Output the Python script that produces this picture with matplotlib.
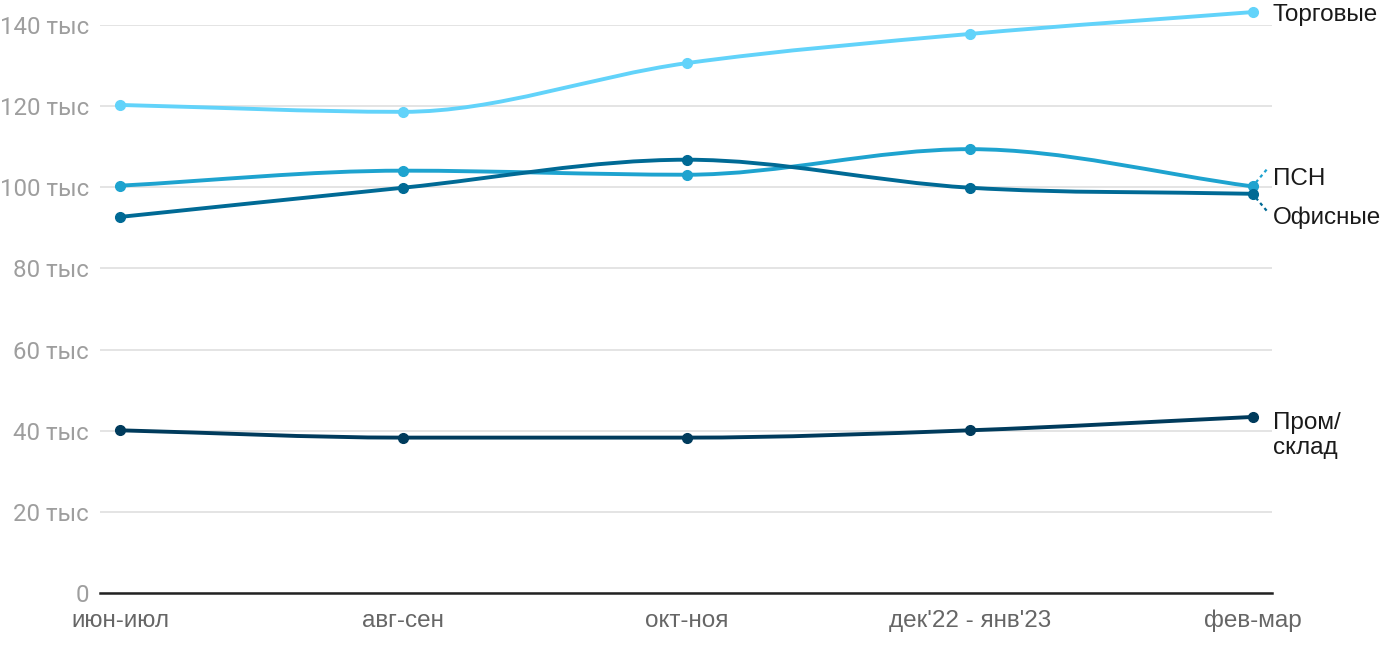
import matplotlib.pyplot as plt
import numpy as np
from matplotlib.path import Path
from matplotlib.patches import PathPatch

periods = ["июн-июл", "авг-сен", "окт-ноя", "дек'22 - янв'23", "фев-мар"]

trade = [120.3, 118.6, 130.6, 137.8, 143.2]
psn = [100.4, 104.1, 103.1, 109.4, 100.2]
office = [92.7, 99.9, 106.8, 99.9, 98.4]
warehouse = [40.1, 38.3, 38.3, 40.1, 43.4]

series = [
    ("Торговые", trade, "#62d3fa"),
    ("ПСН", psn, "#1ea3cf"),
    ("Офисные", office, "#006a95"),
    ("Пром/\nсклад", warehouse, "#003b5c"),
]


def monotone_path(x, y):
    # monotone-x cubic bezier path through the points
    x = np.asarray(x, float)
    y = np.asarray(y, float)
    h = np.diff(x)
    d = np.diff(y) / h
    m = np.zeros_like(y)
    m[0], m[-1] = d[0], d[-1]
    for i in range(1, len(y) - 1):
        if d[i - 1] * d[i] <= 0:
            m[i] = 0
        else:
            m[i] = (h[i - 1] * d[i - 1] + h[i] * d[i]) / (h[i - 1] + h[i])
            m[i] = np.sign(m[i]) * min(abs(m[i]), 3 * abs(d[i - 1]), 3 * abs(d[i]))
    verts = [(x[0], y[0])]
    codes = [Path.MOVETO]
    for i in range(len(x) - 1):
        dx = h[i] / 3
        verts += [(x[i] + dx, y[i] + m[i] * dx),
                  (x[i + 1] - dx, y[i + 1] - m[i + 1] * dx),
                  (x[i + 1], y[i + 1])]
        codes += [Path.CURVE4] * 3
    return Path(verts, codes)


fig = plt.figure(figsize=(14, 6.5), dpi=100)
ax = fig.add_axes([0.0714, 0.0877, 0.8372, 0.8738])

xs = np.arange(len(periods))
for name, vals, col in series:
    ax.add_patch(PathPatch(monotone_path(xs, vals), facecolor="none",
                           edgecolor=col, lw=2.8, capstyle="round",
                           zorder=3, clip_on=False))
    ax.plot(xs, vals, "o", color=col, ms=7, zorder=4, clip_on=False)

ax.set_xlim(-0.0706, 4.067)
ax.set_ylim(0, 140)
ax.set_yticks(range(0, 141, 20))
ax.set_yticklabels(["0"] + [f"{v} тыс" for v in range(20, 141, 20)],
                   fontfamily="Roboto", fontsize=17.3, color="#9e9e9e")
ax.set_xticks(xs)
ax.set_xticklabels(periods, fontfamily="Liberation Sans", fontsize=17.5,
                   color="#666666")
ax.tick_params(axis="y", length=0, pad=8)
ax.tick_params(axis="x", length=0, pad=12)
ax.grid(axis="y", color="#e2e2e2", lw=1.3)
ax.set_axisbelow(True)
for s in ["top", "right", "left"]:
    ax.spines[s].set_visible(False)
ax.spines["bottom"].set_color("#222222")
ax.spines["bottom"].set_linewidth(1.8)
ax.spines["bottom"].set_zorder(5)

lab = dict(fontfamily="Liberation Sans", fontsize=17.5, color="#1a1a1a",
           va="center", ha="left", clip_on=False)
last = xs[-1]
ax.text(last + 0.07, 142.5, "Торговые", **lab)
ax.text(last + 0.07, 102.0, "ПСН", **lab)
ax.text(last + 0.07, 92.6, "Офисные", **lab)
ax.text(last + 0.07, 38.8, "Пром/\nсклад", linespacing=1.2, **lab)
ax.plot([last + 0.01, last + 0.052], [psn[-1] + 1.0, psn[-1] + 4.5],
        ls=(0, (1.5, 1.5)), color=series[1][2], lw=1.6, clip_on=False)
ax.plot([last + 0.01, last + 0.052], [office[-1] - 1.0, office[-1] - 4.5],
        ls=(0, (1.5, 1.5)), color=series[2][2], lw=1.6, clip_on=False)

fig.savefig("out.png", dpi=100)
